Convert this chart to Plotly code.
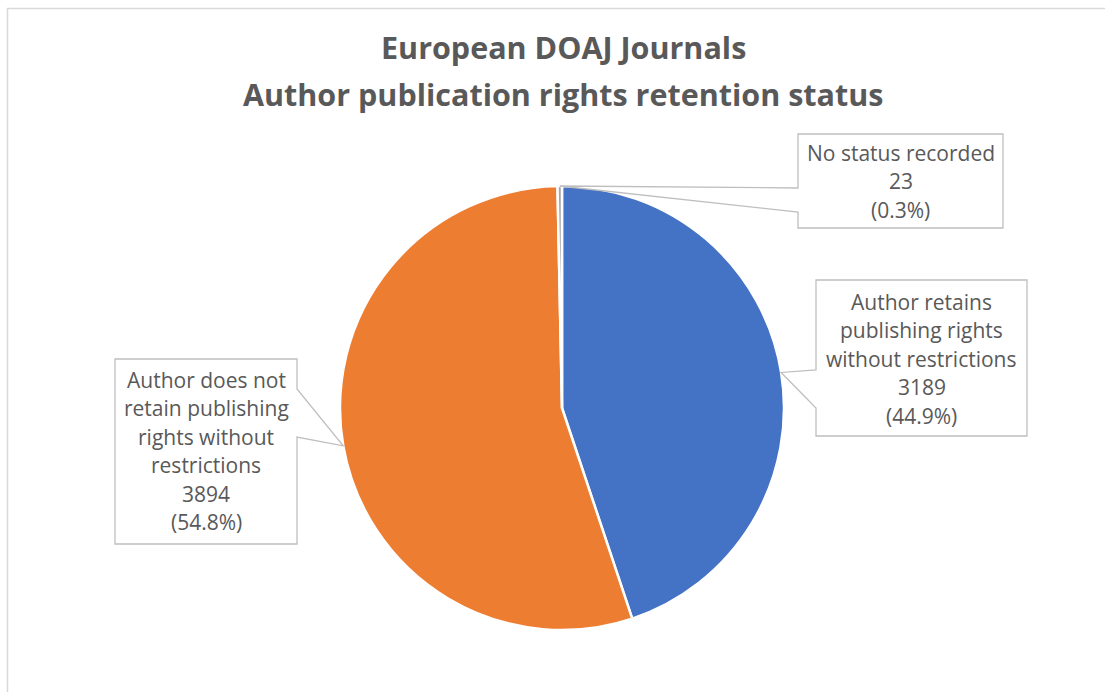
import math
import plotly.graph_objects as go

# ---- data ----
categories = [
    "Author retains publishing rights without restrictions",
    "Author does not retain publishing rights without restrictions",
    "No status recorded",
]
values = [3189, 3894, 23]
percents = ["44.9%", "54.8%", "0.3%"]
label_lines = [
    ["Author retains", "publishing rights", "without restrictions"],
    ["Author does not", "retain publishing", "rights without", "restrictions"],
    ["No status recorded"],
]
colors = ["#4472C4", "#ED7D31", "#A5A5A5"]
title_lines = ["European DOAJ Journals", "Author publication rights retention status"]

# ---- layout geometry (pixels) ----
W, H = 1105, 692
CX, CY, R = 562, 408, 222
TXT = "#595959"
TITLE_FONT = "Open Sans"
LABEL_FONT = "Open Sans"

def px(x):
    return x / W

def py(y):
    return 1 - y / H

fig = go.Figure()
fig.add_trace(go.Pie(
    labels=categories,
    values=values,
    sort=False,
    direction="clockwise",
    rotation=0,
    marker=dict(colors=colors, line=dict(color="white", width=2.5)),
    textinfo="none",
    hoverinfo="skip",
    showlegend=False,
    domain=dict(x=[px(CX - R), px(CX + R)], y=[py(CY + R), py(CY - R)]),
))

# callout boxes: (left, top, right, bottom), wedge base side, wedge base y's
boxes = [
    dict(box=(816, 280, 1027, 436), side="left", wy=(370, 408), lines_y0=302),
    dict(box=(115, 359, 297, 544), side="right", wy=(389, 437), lines_y0=380),
    dict(box=(798, 134, 1003, 228), side="left", wy=(188, 212), lines_y0=153),
]
LINE_H = 28.4

total = sum(values)
cum = 0
shapes = []
annotations = []
for i, v in enumerate(values):
    mid = (cum + v / 2) / total * 2 * math.pi
    cum += v
    tx = CX + R * math.sin(mid)
    ty = CY - R * math.cos(mid)
    b = boxes[i]
    l, t, r, btm = b["box"]
    y1, y2 = b["wy"]
    if b["side"] == "left":
        pts = [(l, t), (r, t), (r, btm), (l, btm), (l, y2), (tx, ty), (l, y1)]
    else:
        pts = [(l, t), (r, t), (r, y1), (tx, ty), (r, y2), (r, btm), (l, btm)]
    path = "M " + " L ".join(f"{px(x):.5f},{py(y):.5f}" for x, y in pts) + " Z"
    shapes.append(dict(type="path", xref="paper", yref="paper", path=path,
                       fillcolor="white", line=dict(color="#BFBFBF", width=1.3),
                       layer="above"))
    lines = label_lines[i] + [f"{v}", f"({percents[i]})"]
    cxb = (l + r) / 2
    for k, s in enumerate(lines):
        annotations.append(dict(
            x=px(cxb), y=py(b["lines_y0"] + k * LINE_H), xref="paper", yref="paper",
            text=s, showarrow=False, xanchor="center", yanchor="middle",
            font=dict(family=LABEL_FONT, size=21, color=TXT),
        ))

# title
for k, s in enumerate(title_lines):
    annotations.append(dict(
        x=px(563), y=py(47 + k * 47), xref="paper", yref="paper",
        text=f"<b>{s}</b>", showarrow=False, xanchor="center", yanchor="middle",
        font=dict(family=TITLE_FONT, size=30.5, color=TXT),
    ))

# chart area border
shapes.insert(0, dict(type="path", xref="paper", yref="paper",
                      path=f"M {px(7.5)},0 L {px(7.5)},{py(8.5)} L 1,{py(8.5)}",
                      line=dict(color="#D9D9D9", width=1.5)))

fig.update_layout(
    width=W, height=H,
    margin=dict(l=0, r=0, t=0, b=0),
    paper_bgcolor="white",
    plot_bgcolor="white",
    shapes=shapes,
    annotations=annotations,
)

fig.write_html("out.html", config={"displayModeBar": False},
               post_script="document.body.style.margin='0px';")
